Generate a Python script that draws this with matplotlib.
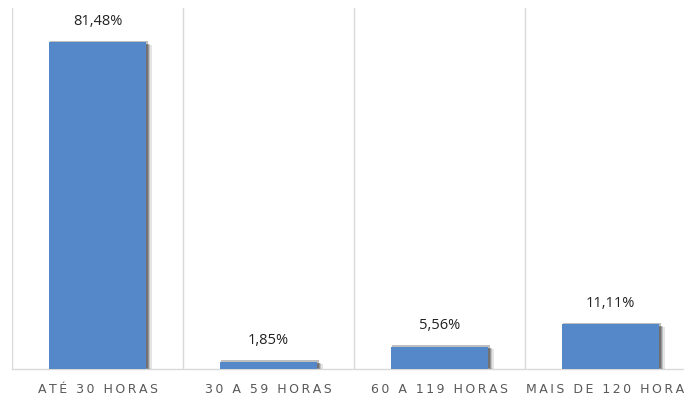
import matplotlib.pyplot as plt
import matplotlib.patheffects as pe

categories = ['ATÉ 30 HORAS', '30 A 59 HORAS', '60 A 119 HORAS', 'MAIS DE 120 HORAS']
values = [81.48, 1.85, 5.56, 11.11]
value_labels = ['81,48%', '1,85%', '5,56%', '11,11%']

bar_color = '#5588C8'
grid_color = '#D9D9D9'


def spaced(text):
    # imitate the wide letter spacing of the axis labels
    return '\u2009'.join(text)


fig = plt.figure(figsize=(6.84, 3.96), dpi=100)
ax = fig.add_axes([12 / 684, 27 / 396, 1.0, 361 / 396])

x = list(range(len(categories)))
bars = ax.bar(x, values, width=0.57, color=bar_color, zorder=3)
for b in bars:
    b.set_path_effects([
        pe.SimplePatchShadow(offset=(4, -2), shadow_rgbFace='black', alpha=0.10),
        pe.SimplePatchShadow(offset=(3, -1), shadow_rgbFace='black', alpha=0.15),
        pe.SimplePatchShadow(offset=(2, -1), shadow_rgbFace='black', alpha=0.22),
        pe.SimplePatchShadow(offset=(1, 1), shadow_rgbFace='black', alpha=0.25),
        pe.Normal(),
    ])

for xi, v, lab in zip(x, values, value_labels):
    ax.annotate(lab, (xi, v), xytext=(0, 15), textcoords='offset points',
                ha='center', va='center', fontsize=10.5, color='#222222',
                family=['Open Sans', 'DejaVu Sans'])

ax.set_xlim(-0.5, 3.5)
ax.set_ylim(0, 90)

for b in [-0.5, 0.5, 1.5, 2.5]:
    ax.axvline(b, color=grid_color, lw=1, zorder=1)

for s in ['top', 'right', 'left']:
    ax.spines[s].set_visible(False)
ax.spines['bottom'].set_color(grid_color)
ax.spines['bottom'].set_linewidth(1)

ax.set_yticks([])
ax.set_xticks(x)
ax.set_xticklabels([spaced(c) for c in categories], fontsize=9, color='#595959',
                   family=['DejaVu Sans'])
ax.tick_params(axis='x', length=0, pad=10)

fig.savefig('out.png', dpi=100)
